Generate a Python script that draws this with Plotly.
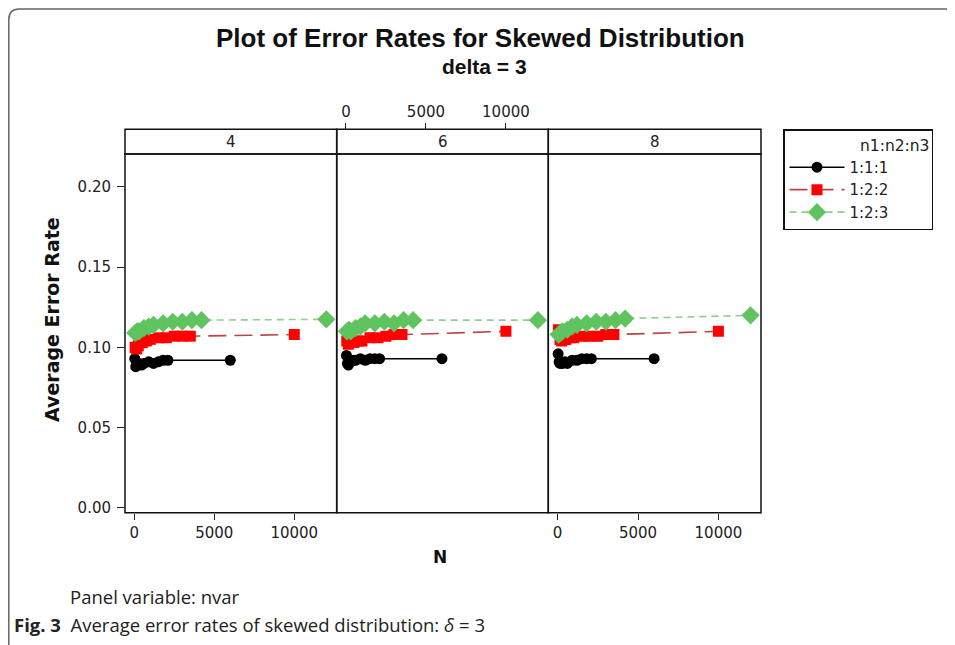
import plotly.graph_objects as go

# ---------------- data ----------------
panels = ["4", "6", "8"]                       # nvar
n_base = [10, 30, 50, 100, 150, 200, 300, 400, 500, 600, 700, 2000]
ratios = ["1:1:1", "1:2:2", "1:2:3"]
ratio_sum = [3, 5, 6]                          # N = n * (n1+n2+n3)

err_111 = {
    "4": [0.093, 0.088, 0.089, 0.090, 0.089, 0.090, 0.091, 0.090, 0.091, 0.092, 0.092, 0.092],
    "6": [0.095, 0.090, 0.089, 0.091, 0.092, 0.092, 0.093, 0.092, 0.093, 0.093, 0.093, 0.093],
    "8": [0.096, 0.091, 0.090, 0.090, 0.091, 0.090, 0.092, 0.092, 0.093, 0.093, 0.093, 0.093],
}
err_122 = {
    "4": [0.100, 0.099, 0.101, 0.103, 0.104, 0.105, 0.106, 0.106, 0.107, 0.107, 0.107, 0.108],
    "6": [0.104, 0.102, 0.103, 0.103, 0.104, 0.104, 0.106, 0.106, 0.107, 0.108, 0.108, 0.110],
    "8": [0.111, 0.105, 0.104, 0.105, 0.106, 0.106, 0.107, 0.107, 0.107, 0.108, 0.108, 0.110],
}
err_123 = {
    "4": [0.109, 0.110, 0.110, 0.112, 0.113, 0.114, 0.115, 0.116, 0.116, 0.117, 0.117, 0.1175],
    "6": [0.110, 0.111, 0.110, 0.112, 0.113, 0.115, 0.115, 0.116, 0.115, 0.117, 0.117, 0.117],
    "8": [0.108, 0.109, 0.110, 0.111, 0.113, 0.114, 0.115, 0.116, 0.116, 0.117, 0.118, 0.120],
}
errors = [err_111, err_122, err_123]

y_ticks = [0.00, 0.05, 0.10, 0.15, 0.20]
x_ticks = [0, 5000, 10000]
x_ticktext = ["0", "5000", "10000"]

# ---------------- style ----------------
OFF = 8                      # page body margin
W, H = 955 - 2 * OFF, 645 - OFF
def fx(p): return (p - OFF) / W
def fy(p): return 1 - (p - OFF) / H

TICKFONT = dict(family="DejaVu Sans", size=15, color="#222")
line_styles = [
    dict(color="black", width=1.5, dash="solid"),
    dict(color="#bb4444", width=1.6, dash="18px,8px"),
    dict(color="#8fce8f", width=1.6, dash="7px,5px"),
]
marker_styles = [
    dict(symbol="circle", size=11, color="black"),
    dict(symbol="square", size=11, color="#ff0000"),
    dict(symbol="diamond", size=14, color="#5fc35f"),
]

panel_px = [(125, 336.7), (336.7, 548.3), (548.3, 761)]
data_top, data_bot = 155, 516
strip_top = 130

fig = go.Figure()
for pi, p in enumerate(panels):
    ax = "" if pi == 0 else str(pi + 1)
    for ri, r in enumerate(ratios):
        N = [n * ratio_sum[ri] for n in n_base]
        fig.add_trace(go.Scatter(
            x=N, y=errors[ri][p], mode="lines+markers",
            name=r + "&nbsp;" * 8,
            line=line_styles[ri], marker=marker_styles[ri],
            legendgroup=r, showlegend=(pi == 0),
            xaxis="x" + ax, yaxis="y" + ax,
        ))

xrange_ = [-581, 12650]
yrange_ = [-0.0031, 0.2205]
ydom = [fy(data_bot), fy(data_top)]

layout = dict(
    width=W, height=H, margin=dict(l=0, r=0, t=0, b=0),
    paper_bgcolor="white", plot_bgcolor="white",
    showlegend=True,
)
for pi in range(3):
    ax = "" if pi == 0 else str(pi + 1)
    show_bottom = pi != 1
    layout["xaxis" + ax] = dict(
        domain=[fx(panel_px[pi][0]), fx(panel_px[pi][1])], range=xrange_,
        anchor="y" + ax, tickvals=x_ticks if show_bottom else [],
        ticktext=x_ticktext if show_bottom else [],
        ticks="outside" if show_bottom else "", ticklen=6, tickwidth=1.2, tickcolor="#222",
        showticklabels=show_bottom, tickfont=TICKFONT, showgrid=False, zeroline=False,
        showline=False,
    )
    layout["yaxis" + ax] = dict(
        domain=ydom, range=yrange_, anchor="x" + ax,
        tickvals=y_ticks if pi == 0 else [], tickformat=".2f",
        ticks="outside" if pi == 0 else "", ticklen=7, tickwidth=1.2, tickcolor="#222",
        showticklabels=(pi == 0), tickfont=TICKFONT, showgrid=False, zeroline=False,
        showline=False, ticklabelstandoff=3,
    )
# top axis on middle panel
layout["xaxis4"] = dict(
    overlaying="x2", anchor="free", position=fy(strip_top), side="top",
    range=xrange_, tickvals=x_ticks, ticktext=x_ticktext, ticks="outside", ticklen=6,
    tickwidth=1.2, tickcolor="#222", tickfont=TICKFONT, showgrid=False, zeroline=False,
    showline=False,
)
fig.add_trace(go.Scatter(x=[None], y=[None], xaxis="x4", yaxis="y2",
                         showlegend=False, hoverinfo="skip"))

shapes = []
for pi in range(3):
    x0, x1 = fx(panel_px[pi][0]), fx(panel_px[pi][1])
    shapes.append(dict(type="rect", xref="paper", yref="paper", x0=x0, x1=x1,
                       y0=fy(data_bot), y1=fy(data_top), line=dict(color="#111", width=1.5)))
    shapes.append(dict(type="rect", xref="paper", yref="paper", x0=x0, x1=x1,
                       y0=fy(data_top), y1=fy(strip_top), line=dict(color="#111", width=1.5)))

# outer page frame with rounded corners
def pt(x, y): return f"{fx(x):.5f},{fy(y):.5f}"
frame_path = (f"M {pt(960, 9)} L {pt(19, 9)} Q {pt(8.8, 9)} {pt(8.8, 20)} "
              f"L {pt(8.8, 650)}")
shapes.append(dict(type="path", xref="paper", yref="paper", path=frame_path,
                   line=dict(color="#666", width=1.5)))
layout["shapes"] = shapes

def A(x, y, text, font, **kw):
    d = dict(x=fx(x), y=fy(y), xref="paper", yref="paper", text=text, showarrow=False,
             xanchor="center", yanchor="middle", font=font)
    d.update(kw)
    return d

ann = []
for pi, p in enumerate(panels):
    ann.append(A((panel_px[pi][0] + panel_px[pi][1]) / 2, (strip_top + data_top) / 2, p,
                 dict(family="DejaVu Sans", size=15, color="#222")))
ann += [
    A(480, 38, "<b>Plot of Error Rates for Skewed Distribution</b>",
      dict(family="Liberation Sans", size=26, color="#111")),
    A(484, 67, "<b>delta = 3</b>", dict(family="Liberation Sans", size=21, color="#111")),
    A(440, 560, "<b>N</b>", dict(family="DejaVu Sans", size=17, color="#111")),
    A(52, 322, "<b>Average Error Rate</b>", dict(family="DejaVu Sans", size=19, color="#111"),
      textangle=-90),
    A(68, 600, "Panel variable: nvar", dict(family="Open Sans", size=18.5, color="#222"),
      xanchor="left"),
    A(12, 628, "<b>Fig. 3</b>  Average error rates of skewed distribution: <i>δ</i> = 3",
      dict(family="Open Sans", size=18.5, color="#222"), xanchor="left"),
]
layout["annotations"] = ann

layout["legend"] = dict(
    x=fx(783), y=fy(130), xanchor="left", yanchor="top",
    bordercolor="#111", borderwidth=1.5, bgcolor="white",
    font=dict(family="DejaVu Sans", size=15, color="#222"),
    title=dict(text="n1:n2:n3", side="top right", font=dict(family="DejaVu Sans", size=15.5)),
    itemwidth=55, tracegroupgap=0,
)

fig.update_layout(**layout)
fig.write_html("out.html")
